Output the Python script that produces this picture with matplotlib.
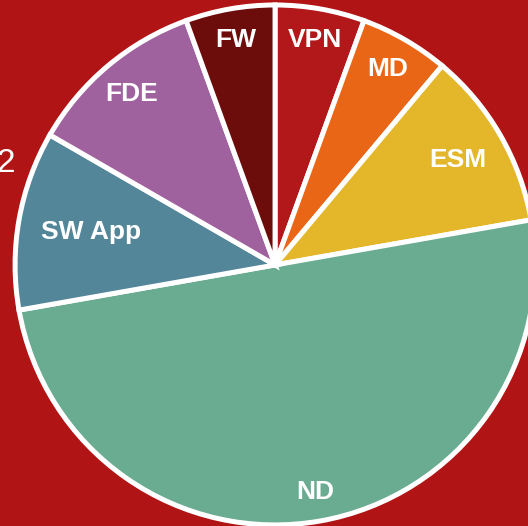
import matplotlib.pyplot as plt

labels = ["VPN", "MD", "ESM", "ND", "SW App", "FDE", "FW"]
counts = [1, 1, 2, 9, 2, 2, 1]
colors = ["#b21719", "#ea6617", "#e4b72b", "#6aac91", "#548699", "#a0629e", "#6c0c0b"]
# how far from the centre each label sits (fraction of radius)
label_r = [0.88, 0.87, 0.81, 0.885, 0.72, 0.86, 0.88]

bg = "#b01414"

fig = plt.figure(figsize=(5.28, 5.26), dpi=100, facecolor=bg)
ax = fig.add_axes([0, 0, 1, 1])
ax.set_facecolor(bg)

wedges, texts = ax.pie(counts, labels=labels, colors=colors, startangle=90,
                       counterclock=False, radius=1, labeldistance=0.87,
                       wedgeprops=dict(edgecolor="white", linewidth=3.6),
                       textprops=dict(color="white", fontsize=19, fontweight="bold",
                                      family="Liberation Sans"))
for t, r in zip(texts, label_r):
    x, y = t.get_position()
    t.set_position((x * r / 0.87, y * r / 0.87))
    t.set_ha("center")
    t.set_va("center")

ax.text(-1.037, 0.39, "2", color="white", fontsize=24, ha="center", va="center",
        family="Liberation Sans")

ax.set_xlim(-1.058, 0.973)
ax.set_ylim(-1.004, 1.019)
ax.set_aspect("equal")
ax.axis("off")

fig.savefig("out.png", dpi=100, facecolor=bg)
